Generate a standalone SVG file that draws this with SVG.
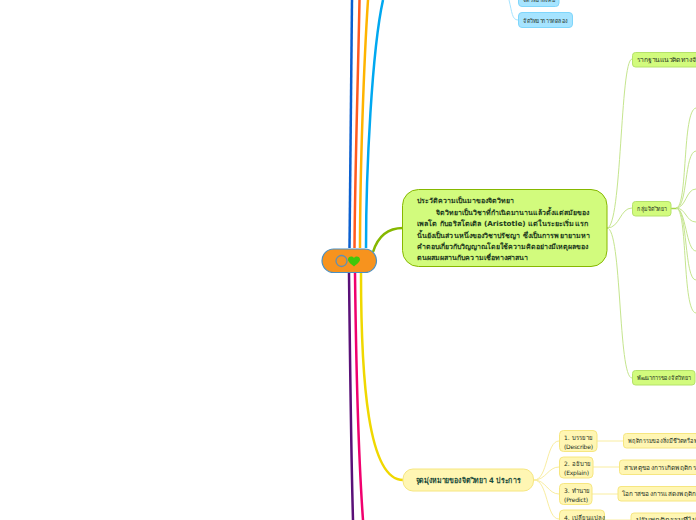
<svg xmlns="http://www.w3.org/2000/svg" width="696" height="520" viewBox="0 0 696 520">
<style>
text{font-family:"DejaVu Sans","Noto Sans",sans-serif;fill:#24301f}
.t7{font-size:6px}
.b{font-size:7px;font-weight:bold;fill:#1c3a1c}
.h{font-size:7.500px;font-weight:bold;fill:#1a4a3a}
.g{fill:#d2fb7d;stroke:#b5e26a;stroke-width:1}
.y{fill:#fff6b3;stroke:#f6e680;stroke-width:1}
.c{fill:#a6e4ff;stroke:#7fd6fb;stroke-width:1}
.lg{fill:none;stroke:#c5e58e;stroke-width:1}
.ly{fill:none;stroke:#f9eda0;stroke-width:1}
.lc{fill:none;stroke:#a6e4ff;stroke-width:1}
</style>
<rect width="696" height="520" fill="#fff"/>
<g id="connectors">
<path d="M352 0C351 90 350 170 349.500 248" fill="none" stroke="#0a5fd0" stroke-width="2.500"/>
<path d="M359.500 0C358 80 355 170 354.500 248" fill="none" stroke="#ff5a1f" stroke-width="2.500"/>
<path d="M368 0C364 60 360 170 360 248" fill="none" stroke="#ffb400" stroke-width="2.500"/>
<path d="M383 0C372 50 366 170 366 248" fill="none" stroke="#00a8f0" stroke-width="2.500"/>
<path d="M349 273C350 360 351 450 353 520" fill="none" stroke="#5a1078" stroke-width="2.500"/>
<path d="M355 273C356 360 358 450 363 520" fill="none" stroke="#f0006e" stroke-width="2.500"/>
<path d="M361 273C361 380 368 480 403 480" fill="none" stroke="#f0d800" stroke-width="2.500"/>
<path d="M373 252C378 236 388 228 403 228" fill="none" stroke="#86b800" stroke-width="2.500"/>
<path class="lc" d="M509 0C512 12 512 20 518 20"/>
<path class="lg" d="M607 228C622 228 620 60 632 59"/>
<path class="lg" d="M607 228C620 228 620 208 632 208"/>
<path class="lg" d="M607 228C622 228 618 378 632 378"/>
<path d="M671 208.500H677" stroke="#a6d64a" stroke-width="1.500" fill="none"/>
<path class="lg" d="M676 208C688 208 682 110 696 108"/>
<path class="lg" d="M676 208C688 208 684 152 696 151"/>
<path class="lg" d="M676 208C686 208 686 189 696 189"/>
<path class="lg" d="M676 208C686 208 686 222 696 222"/>
<path class="lg" d="M676 208C686 208 686 251 696 251"/>
<path class="lg" d="M676 208C688 208 684 280 696 280"/>
<path class="lg" d="M676 208C688 208 682 312 696 313"/>
<path class="ly" d="M534 480C548 480 546 441 559 441"/>
<path class="ly" d="M534 480C546 480 548 467 559 467"/>
<path class="ly" d="M534 480C546 480 548 494 559 494"/>
<path class="ly" d="M534 480C548 480 546 519 559 519"/>
<path class="ly" d="M597 441H623"/>
<path class="ly" d="M593 467H619"/>
<path class="ly" d="M592 494H618"/>
<path class="ly" d="M605 520H631"/>
</g>
<g id="root"><rect x="322" y="249" width="54.500" height="23.500" rx="11.700" fill="#f7931e" stroke="#4a90c4" stroke-width="1.200"/>
<circle cx="341.500" cy="261" r="5.500" fill="none" stroke="#5f8fb5" stroke-width="1.300"/>
<path d="M354 266.500C349 262.500 348 261 348 259.500C348 256.500 352 255.500 354 258C356 255.500 360 256.500 360 259.500C360 261 359 262.500 354 266.500Z" fill="#3fc70a"/></g>
<g id="n-exp"><rect class="c" x="518.500" y="12.500" width="54" height="15" rx="3.500"/><text class="t7" x="523" y="22.500" textLength="45" lengthAdjust="spacingAndGlyphs">จิตวิทยาการทดลอง</text></g>
<g id="n-soc"><rect class="c" x="518.500" y="-9" width="40.500" height="15.500" rx="3.500"/><text class="t7" x="523" y="2" textLength="32" lengthAdjust="spacingAndGlyphs">จิตวิทยาสังคม</text></g>
<g id="n-history"><rect x="402.500" y="189.500" width="204.500" height="77" rx="16" fill="#d2fb7d" stroke="#86b800" stroke-width="1"/>
<text class="b" x="417" y="203" textLength="97" lengthAdjust="spacingAndGlyphs">ประวัติความเป็นมาของจิตวิทยา</text>
<text class="b" x="436" y="214.500" textLength="153" lengthAdjust="spacingAndGlyphs">จิตวิทยาเป็นวิชาที่กำเนิดมานานแล้วตั้งแต่สมัยของ</text>
<text class="b" x="417" y="226" textLength="171" lengthAdjust="spacingAndGlyphs">เพลโต กับอริสโตเติล (Aristotle) แต่ในระยะเริ่มแรก</text>
<text class="b" x="417" y="237.500" textLength="173" lengthAdjust="spacingAndGlyphs">นั้นยังเป็นส่วนหนึ่งของวิชาปรัชญา ซึ่งเป็นการพยายามหา</text>
<text class="b" x="417" y="249" textLength="171" lengthAdjust="spacingAndGlyphs">คำตอบเกี่ยวกับวิญญาณโดยใช้ความคิดอย่างมีเหตุผลของ</text>
<text class="b" x="417" y="260" textLength="111" lengthAdjust="spacingAndGlyphs">ตนผสมผสานกับความเชื่อทางศาสนา</text></g>
<g id="n-root-concept"><rect class="g" x="632.500" y="52.500" width="80" height="14.500" rx="3"/><text class="t7" x="637" y="62" textLength="80" lengthAdjust="spacingAndGlyphs">รากฐานแนวคิดทางจิตวิทยา</text></g>
<g id="n-groups"><rect class="g" x="632.500" y="201.500" width="38.500" height="14.500" rx="3"/><text class="t7" x="637" y="211" textLength="30" lengthAdjust="spacingAndGlyphs">กลุ่มจิตวิทยา</text></g>
<g id="n-dev"><rect class="g" x="632.500" y="370.500" width="62.500" height="14.500" rx="3"/><text class="t7" x="637" y="380" textLength="54" lengthAdjust="spacingAndGlyphs">พัฒนาการของจิตวิทยา</text></g>
<g id="n-goals"><rect class="y" x="403" y="469" width="130.500" height="22" rx="10"/><text class="h" x="415.500" y="483" textLength="105" lengthAdjust="spacingAndGlyphs">จุดมุ่งหมายของจิตวิทยา 4 ประการ</text></g>
<g id="n-1"><rect class="y" x="559.500" y="430.500" width="37.500" height="21" rx="4"/><text class="t7" x="564" y="440">1. บรรยาย</text><text class="t7" x="564" y="448.500" textLength="29">(Describe)</text></g>
<g id="n-2"><rect class="y" x="559.500" y="457" width="33.500" height="21" rx="4"/><text class="t7" x="564" y="466">2. อธิบาย</text><text class="t7" x="564" y="474.500" textLength="25">(Explain)</text></g>
<g id="n-3"><rect class="y" x="559.500" y="483.500" width="32.500" height="21" rx="4"/><text class="t7" x="564" y="493">3. ทำนาย</text><text class="t7" x="564" y="501.500" textLength="24">(Predict)</text></g>
<g id="n-4"><rect class="y" x="559.500" y="510" width="45" height="21" rx="4"/><text class="t7" x="564" y="519.500">4. เปลี่ยนแปลง</text></g>
<g id="n-1a"><rect class="y" x="623.500" y="433.500" width="90" height="14.500" rx="3"/><text class="t7" x="628" y="443" textLength="90" lengthAdjust="spacingAndGlyphs">พฤติกรรมของสิ่งมีชีวิตหรือพฤติกรรม</text></g>
<g id="n-2a"><rect class="y" x="619.500" y="460" width="90" height="14.500" rx="3"/><text class="t7" x="623.500" y="469.500" textLength="85" lengthAdjust="spacingAndGlyphs">สาเหตุของการเกิดพฤติกรรม "</text></g>
<g id="n-3a"><rect class="y" x="618" y="486.500" width="90" height="14.500" rx="3"/><text class="t7" x="622" y="496" textLength="85" lengthAdjust="spacingAndGlyphs">โอกาสของการแสดงพฤติกรรม</text></g>
<g id="n-4a"><rect class="y" x="631" y="513" width="90" height="14.500" rx="3"/><text class="t7" x="636" y="522" textLength="70" lengthAdjust="spacingAndGlyphs">ปรับพฤติกรรมที่ไม่พึง</text></g>
</svg>
